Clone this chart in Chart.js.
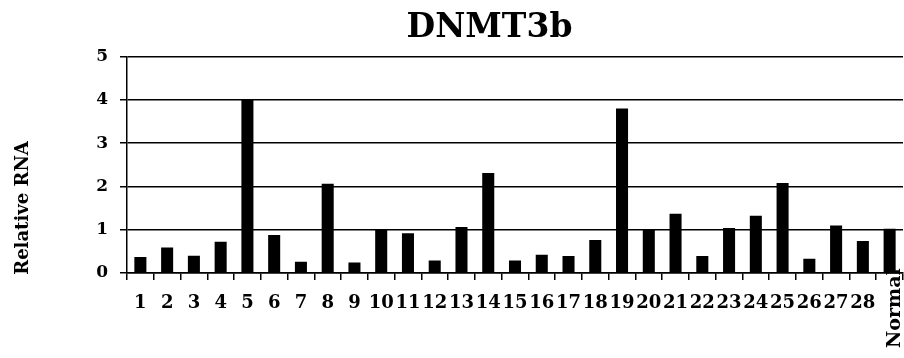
<!DOCTYPE html>
<html>
<head>
<meta charset="utf-8">
<script src="https://cdn.jsdelivr.net/npm/chart.js@4/dist/chart.umd.min.js"></script>
<style>
html,body{margin:0;padding:0;background:#fff;}
#wrap{width:904px;height:358px;position:relative;}
</style>
</head>
<body>
<div id="wrap"><canvas id="c" width="904" height="358"></canvas></div>
<script>
const chartTitle = 'DNMT3b';
const yAxisTitle = 'Relative RNA';
const categories = ['1','2','3','4','5','6','7','8','9','10','11','12','13','14','15','16','17','18','19','20','21','22','23','24','25','26','27','28','Normal'];
const relativeRNA = [0.37,0.59,0.40,0.72,4.00,0.88,0.26,2.06,0.24,1.01,0.92,0.29,1.06,2.31,0.29,0.42,0.39,0.76,3.80,1.00,1.37,0.39,1.04,1.32,2.08,0.33,1.10,0.74,1.02];
const yTicks = [0,1,2,3,4,5];
const rotatedLabels = ['Normal'];

const FONT = "'DejaVu Serif', 'Liberation Serif', serif";

const customText = {
  id: 'customText',
  afterLayout(chart) {
    // shift the title's centre to match the reference
    if (chart.titleBlock) { chart.titleBlock.left += 76; }
  },
  afterDraw(chart) {
    const ctx = chart.ctx;
    const x = chart.scales.x;
    ctx.save();
    ctx.fillStyle = '#000';
    // y-axis title
    ctx.font = 'bold 18px ' + FONT;
    ctx.textAlign = 'center';
    ctx.textBaseline = 'middle';
    ctx.translate(23, 208);
    ctx.rotate(-Math.PI / 2);
    ctx.fillText(yAxisTitle, 0, 0);
    ctx.restore();
    // rotated category labels
    ctx.save();
    ctx.fillStyle = '#000';
    ctx.font = 'bold 19px ' + FONT;
    categories.forEach((c, i) => {
      if (rotatedLabels.includes(c)) {
        const px = x.getPixelForValue(i);
        ctx.save();
        ctx.translate(px + 5, 348);
        ctx.rotate(-Math.PI / 2);
        ctx.textAlign = 'left';
        ctx.textBaseline = 'middle';
        ctx.fillText(c, 0, 0);
        ctx.restore();
      }
    });
    ctx.restore();
  }
};

new Chart(document.getElementById('c'), {
  type: 'bar',
  data: {
    labels: categories,
    datasets: [{
      data: relativeRNA,
      backgroundColor: '#000',
      borderWidth: 0,
      barPercentage: 0.45,
      categoryPercentage: 1.0
    }]
  },
  options: {
    responsive: false,
    animation: false,
    devicePixelRatio: 1,
    layout: { padding: { left: 0, right: 1, top: 0, bottom: 0 } },
    plugins: {
      legend: { display: false },
      tooltip: { enabled: false },
      title: {
        display: true,
        text: chartTitle,
        color: '#000',
        font: { family: FONT, size: 33, weight: 'bold', lineHeight: 1.2 },
        padding: { top: 9, bottom: 8 }
      }
    },
    scales: {
      x: {
        grid: { display: true, drawOnChartArea: false, drawTicks: true, tickLength: 7, color: '#000', lineWidth: 1.5, offset: true },
        border: { display: true, color: '#000', width: 1.5 },
        ticks: {
          color: '#000',
          autoSkip: false,
          maxRotation: 0,
          minRotation: 0,
          padding: 13,
          font: { family: FONT, size: 18, weight: 'bold' },
          callback: function(v, i) { const l = categories[i]; return rotatedLabels.includes(l) ? '' : l; }
        },
        afterFit: function(s) { s.height = 85; }
      },
      y: {
        min: 0,
        max: 5,
        afterBuildTicks: function(s) { s.ticks = yTicks.map(v => ({ value: v })); },
        grid: { display: true, drawOnChartArea: true, drawTicks: true, tickLength: 7, color: '#000', lineWidth: 1.5 },
        border: { display: true, color: '#000', width: 1.5 },
        ticks: {
          color: '#000',
          padding: 12,
          font: { family: FONT, size: 17, weight: 'bold' }
        },
        afterFit: function(s) { s.width = 127; }
      }
    }
  },
  plugins: [customText]
});
</script>
</body>
</html>
